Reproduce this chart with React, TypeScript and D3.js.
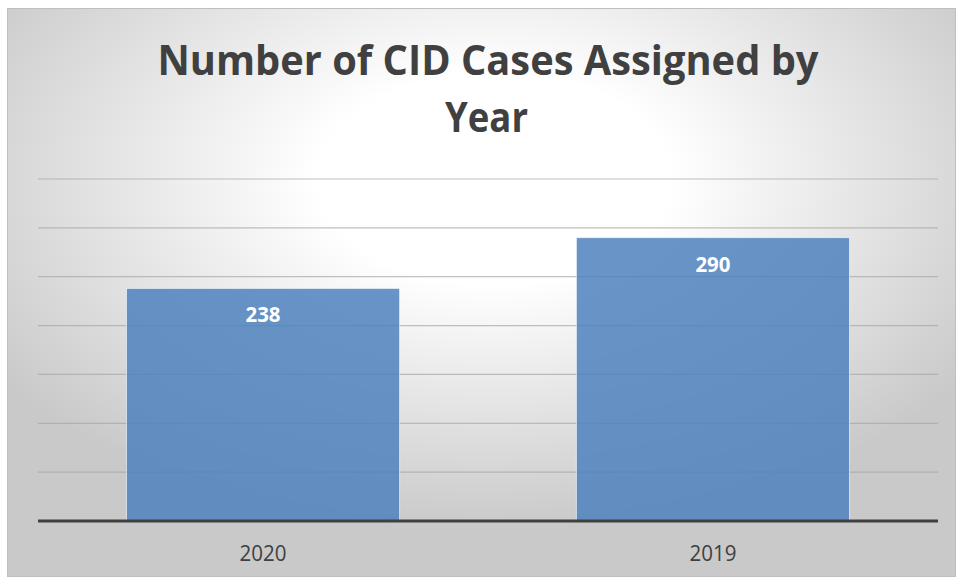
import * as d3 from 'd3'

const years = ['2020', '2019']
const cases = [238, 290]
const yTicks = [0, 50, 100, 150, 200, 250, 300, 350]
const titleLines = ['Number of CID Cases Assigned by', 'Year']

const W = 956
const H = 577

export default function App() {
  const margin = { top: 179, right: 18, bottom: 56, left: 38 }
  const x = d3.scaleBand<string>()
    .domain(years)
    .range([margin.left, W - margin.right])
    .paddingInner(0.393)
    .paddingOuter(0.1967)
  const y = d3.scaleLinear()
    .domain([0, 350])
    .range([H - margin.bottom, margin.top])

  const font = '"Open Sans", sans-serif'

  return (
    <div style={{ position: 'absolute', left: 0, top: 0 }}>
      <svg width={W} height={H} style={{ display: 'block' }}>
        <defs>
          <radialGradient id="bg" cx="0.5" cy="0.3" r="0.62" fx="0.52" fy="0.3">
            <stop offset="0" stopColor="#ffffff" />
            <stop offset="0.3" stopColor="#ffffff" />
            <stop offset="1" stopColor="#c9c9c9" />
          </radialGradient>
        </defs>
        <rect x={7.5} y={8.5} width={W - 8} height={H - 9} fill="url(#bg)" stroke="#bfbfbf" />

        {/* gridlines */}
        {yTicks.slice(1).map(t => (
          <line key={t} x1={margin.left} x2={W - margin.right} y1={y(t)} y2={y(t)}
            stroke="#a6a6a6" strokeOpacity={0.7} strokeWidth={1.2} />
        ))}

        {/* bars */}
        {years.map((yr, i) => (
          <rect key={yr} x={x(yr)} y={y(cases[i])} width={x.bandwidth()} height={y(0) - y(cases[i])}
            fill="#4f81bd" fillOpacity={0.85} stroke="#ffffff" strokeOpacity={0.6} strokeWidth={1} />
        ))}

        {/* axis */}
        <line x1={margin.left} x2={W - margin.right} y1={y(0)} y2={y(0)} stroke="#404040" strokeWidth={3} />

        {/* value labels */}
        {years.map((yr, i) => (
          <text key={yr} x={x(yr)! + x.bandwidth() / 2} y={y(cases[i]) + 34} textAnchor="middle"
            fill="#ffffff" fontWeight="bold" fontSize={22} fontFamily={font}
            textLength={35} lengthAdjust="spacingAndGlyphs">{cases[i]}</text>
        ))}

        {/* category labels */}
        {years.map(yr => (
          <text key={yr} x={x(yr)! + x.bandwidth() / 2} y={561} textAnchor="middle"
            fill="#404040" fontSize={22} fontFamily={font}
            textLength={47} lengthAdjust="spacingAndGlyphs">{yr}</text>
        ))}

        {/* title */}
        <text x={488} y={75} textAnchor="middle" fill="#404040" fontWeight="bold" fontSize={42}
          fontFamily={font} textLength={661} lengthAdjust="spacingAndGlyphs">{titleLines[0]}</text>
        <text x={486.5} y={132} textAnchor="middle" fill="#404040" fontWeight="bold" fontSize={42}
          fontFamily={font} textLength={83} lengthAdjust="spacingAndGlyphs">{titleLines[1]}</text>
      </svg>
    </div>
  )
}
